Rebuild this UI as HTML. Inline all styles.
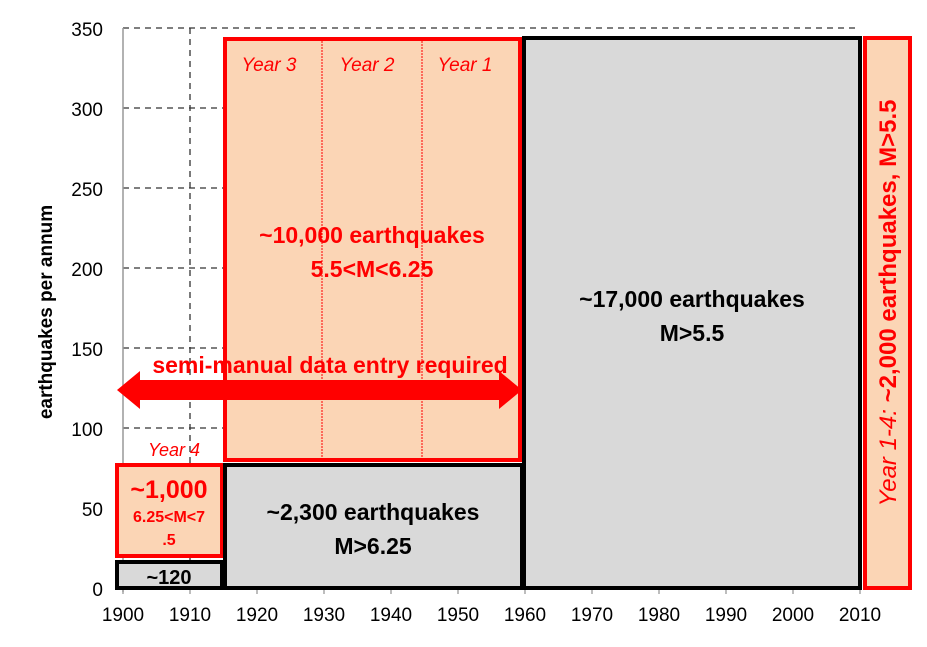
<!DOCTYPE html>
<html><head><style>
body{margin:0;background:#fff;}
svg{display:block;font-family:"Liberation Sans",Arial,sans-serif;}
</style></head><body>
<svg width="927" height="647" viewBox="0 0 927 647">
<g stroke="#333" stroke-width="1.3" stroke-dasharray="6,5" fill="none">
<line x1="123" y1="28" x2="860" y2="28"/>
<line x1="123" y1="108" x2="860" y2="108"/>
<line x1="123" y1="188" x2="860" y2="188"/>
<line x1="123" y1="268" x2="860" y2="268"/>
<line x1="123" y1="348" x2="860" y2="348"/>
<line x1="123" y1="428" x2="860" y2="428"/>
<line x1="123" y1="508" x2="860" y2="508"/>
<line x1="190" y1="28" x2="190" y2="588"/>
</g>
<line x1="123" y1="28" x2="123" y2="592" stroke="#999" stroke-width="1.5"/>
<line x1="123" y1="588" x2="860" y2="588" stroke="#999" stroke-width="1.5"/>
<g stroke="#999" stroke-width="1.3">
<line x1="123" y1="588" x2="123" y2="594"/><line x1="190" y1="588" x2="190" y2="594"/><line x1="257" y1="588" x2="257" y2="594"/><line x1="324" y1="588" x2="324" y2="594"/><line x1="391" y1="588" x2="391" y2="594"/><line x1="458" y1="588" x2="458" y2="594"/><line x1="525" y1="588" x2="525" y2="594"/><line x1="592" y1="588" x2="592" y2="594"/><line x1="659" y1="588" x2="659" y2="594"/><line x1="726" y1="588" x2="726" y2="594"/><line x1="793" y1="588" x2="793" y2="594"/><line x1="860" y1="588" x2="860" y2="594"/>
</g>
<g font-size="19" fill="#000" text-anchor="end">
<text x="103" y="36">350</text><text x="103" y="116">300</text><text x="103" y="196">250</text><text x="103" y="276">200</text><text x="103" y="356">150</text><text x="103" y="436">100</text><text x="103" y="516">50</text><text x="103" y="596">0</text>
</g>
<g font-size="19" fill="#000" text-anchor="middle">
<text x="123" y="621">1900</text><text x="190" y="621">1910</text><text x="257" y="621">1920</text><text x="324" y="621">1930</text><text x="391" y="621">1940</text><text x="458" y="621">1950</text><text x="525" y="621">1960</text><text x="592" y="621">1970</text><text x="659" y="621">1980</text><text x="726" y="621">1990</text><text x="793" y="621">2000</text><text x="860" y="621">2010</text>
</g>
<text transform="translate(52,312) rotate(-90)" font-size="19" font-weight="bold" text-anchor="middle">earthquakes per annum</text>

<rect x="117" y="562" width="105" height="26" fill="#d9d9d9" stroke="#000" stroke-width="4"/>
<text x="169" y="584" font-size="20" font-weight="bold" text-anchor="middle">~120</text>
<rect x="117" y="465" width="105" height="91" fill="#fbd5b5" stroke="#f00" stroke-width="4"/>
<text x="169" y="498" font-size="25" font-weight="bold" fill="#f00" text-anchor="middle">~1,000</text>
<text x="169" y="522" font-size="16" font-weight="bold" fill="#f00" text-anchor="middle">6.25&lt;M&lt;7</text>
<text x="169" y="545" font-size="16" font-weight="bold" fill="#f00" text-anchor="middle">.5</text>
<text x="174" y="456" font-size="18" font-style="italic" fill="#f00" text-anchor="middle">Year 4</text>

<rect x="225" y="465" width="297" height="123" fill="#d9d9d9" stroke="#000" stroke-width="4"/>
<text x="373" y="520" font-size="23" font-weight="bold" text-anchor="middle">~2,300 earthquakes</text>
<text x="373" y="554" font-size="23" font-weight="bold" text-anchor="middle">M&gt;6.25</text>

<rect x="225" y="39" width="295" height="421" fill="#fbd5b5" stroke="#f00" stroke-width="4"/>
<line x1="322" y1="41" x2="322" y2="458" stroke="#f00" stroke-width="1" stroke-dasharray="2,1"/>
<line x1="422" y1="41" x2="422" y2="458" stroke="#f00" stroke-width="1" stroke-dasharray="2,1"/>
<g font-size="19" font-style="italic" fill="#f00" text-anchor="middle">
<text x="269" y="71">Year 3</text><text x="367" y="71">Year 2</text><text x="465" y="71">Year 1</text>
</g>
<text x="372" y="243" font-size="23" font-weight="bold" fill="#f00" text-anchor="middle">~10,000 earthquakes</text>
<text x="372" y="277" font-size="23" font-weight="bold" fill="#f00" text-anchor="middle">5.5&lt;M&lt;6.25</text>

<rect x="524" y="38" width="336" height="550" fill="#d9d9d9" stroke="#000" stroke-width="4"/>
<text x="692" y="307" font-size="23" font-weight="bold" text-anchor="middle">~17,000 earthquakes</text>
<text x="692" y="341" font-size="23" font-weight="bold" text-anchor="middle">M&gt;5.5</text>

<rect x="865" y="38" width="45" height="550" fill="#fbd5b5" stroke="#f00" stroke-width="4"/>
<text transform="translate(896,303) rotate(-90)" font-size="24" fill="#f00" text-anchor="middle"><tspan font-style="italic">Year 1-4: </tspan><tspan font-weight="bold">~2,000 earthquakes, M&gt;5.5</tspan></text>

<rect x="134" y="380" width="370" height="20" fill="#f00"/>
<polygon points="117,390 140,371 140,409" fill="#f00"/>
<polygon points="522,390 499,371 499,409" fill="#f00"/>
<text x="330" y="373" font-size="23" font-weight="bold" fill="#f00" text-anchor="middle">semi-manual data entry required</text>
</svg>
</body></html>
